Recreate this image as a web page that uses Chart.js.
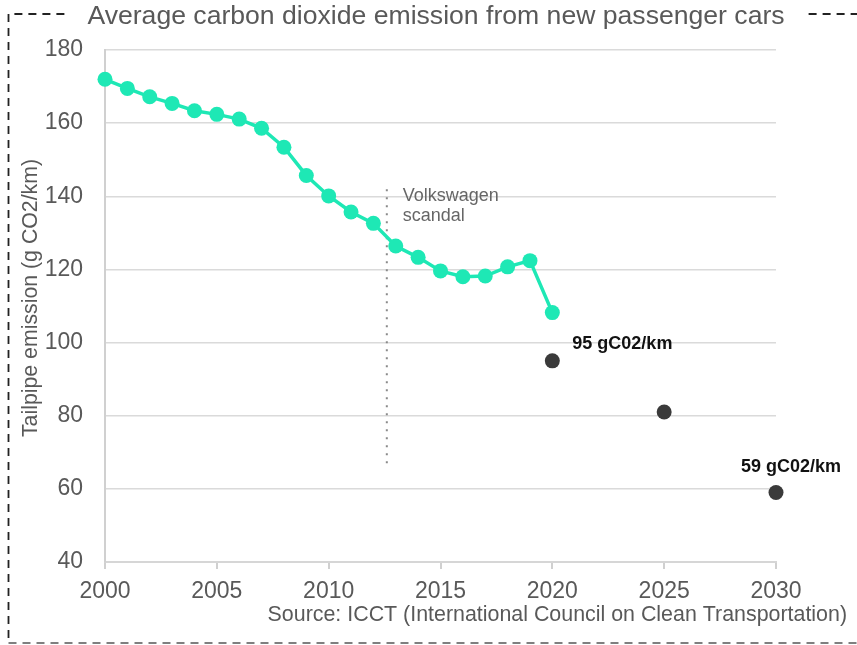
<!DOCTYPE html>
<html>
<head>
<meta charset="utf-8">
<title>Average carbon dioxide emission from new passenger cars</title>
<script src="https://cdn.jsdelivr.net/npm/chart.js@4/dist/chart.umd.min.js"></script>
<style>
  html, body { margin: 0; padding: 0; background: #ffffff; }
  #wrap { width: 857px; height: 645px; }
</style>
</head>
<body>
<div id="wrap"><canvas id="chart" width="857" height="645"></canvas></div>
<script>
// Fleet average tailpipe CO2 of newly registered cars (g CO2/km)
const years = [2000, 2001, 2002, 2003, 2004, 2005, 2006, 2007, 2008, 2009, 2010,
               2011, 2012, 2013, 2014, 2015, 2016, 2017, 2018, 2019, 2020];
const emissions = [172.0, 169.5, 167.2, 165.4, 163.4, 162.4, 161.1, 158.6, 153.4, 145.7, 140.1,
                   135.7, 132.6, 126.4, 123.3, 119.6, 118.0, 118.2, 120.7, 122.4, 108.2];

// Regulatory targets
const targetYears = [2020, 2025, 2030];
const targetValues = [95, 81, 59];
const targetLabels = ['95 gC02/km', null, '59 gC02/km'];

// Volkswagen emissions scandal marker
const scandalYear = 2012.6;
const scandalSpan = [67, 143];
const scandalText = ['Volkswagen', 'scandal'];

const xTicks = [2000, 2005, 2010, 2015, 2020, 2025, 2030];
const yTicks = [40, 60, 80, 100, 120, 140, 160, 180];

const chartTitle = 'Average carbon dioxide emission from new passenger cars';
const yTitle = 'Tailpipe emission (g CO2/km)';
const sourceText = 'Source: ICCT (International Council on Clean Transportation)';

const FONT = '"Liberation Sans", Arial, Helvetica, sans-serif';
const GREY_TEXT = '#595959';
const TEAL = '#1ee8b5';
const DARK = '#3a3a3a';

const decorations = {
  id: 'decorations',
  afterDraw(chart) {
    const ctx = chart.ctx;
    const xs = chart.scales.x, ys = chart.scales.y;
    ctx.save();

    // Title
    ctx.font = '26.6px ' + FONT;
    ctx.fillStyle = GREY_TEXT;
    ctx.textAlign = 'center';
    ctx.textBaseline = 'alphabetic';
    const titleX = 436;
    ctx.fillText(chartTitle, titleX, 24);
    const tw = ctx.measureText(chartTitle).width;

    // Dashed frame, open on the right and broken by the title
    ctx.strokeStyle = '#222222';
    ctx.lineWidth = 1.8;
    ctx.setLineDash([8, 6]);
    const left = 8.5, top = 14, bottom = 643;
    ctx.beginPath();
    ctx.moveTo(titleX - tw / 2 - 23, top);
    ctx.lineTo(left, top);
    ctx.lineTo(left, bottom);
    ctx.stroke();
    ctx.strokeStyle = '#555555';
    ctx.lineWidth = 1.5;
    ctx.beginPath();
    ctx.moveTo(left, bottom);
    ctx.lineTo(857, bottom);
    ctx.stroke();
    ctx.strokeStyle = '#222222';
    ctx.lineWidth = 1.8;
    ctx.beginPath();
    ctx.moveTo(titleX + tw / 2 + 24, top);
    ctx.lineTo(857, top);
    ctx.stroke();
    ctx.setLineDash([]);

    // Y axis title
    ctx.save();
    ctx.translate(31, 298);
    ctx.rotate(-Math.PI / 2);
    ctx.font = '21.3px ' + FONT;
    ctx.fillStyle = GREY_TEXT;
    ctx.textAlign = 'center';
    ctx.textBaseline = 'middle';
    ctx.fillText(yTitle, 0, 0);
    ctx.restore();

    // Source note
    ctx.font = '21.4px ' + FONT;
    ctx.fillStyle = GREY_TEXT;
    ctx.textAlign = 'right';
    ctx.textBaseline = 'alphabetic';
    ctx.fillText(sourceText, 847, 621);

    // Scandal annotation
    ctx.font = '18px ' + FONT;
    ctx.fillStyle = '#666666';
    ctx.textAlign = 'left';
    const sx = xs.getPixelForValue(scandalYear) + 16;
    const sy = ys.getPixelForValue(scandalSpan[1]) + 15.5;
    scandalText.forEach((t, i) => ctx.fillText(t, sx, sy + i * 20.5));

    // Target value labels
    ctx.font = 'bold 18px ' + FONT;
    ctx.fillStyle = '#111111';
    targetLabels.forEach((t, i) => {
      if (!t) return;
      const px = xs.getPixelForValue(targetYears[i]);
      const py = ys.getPixelForValue(targetValues[i]);
      if (i === 0) ctx.fillText(t, px + 20, py - 12);
      else ctx.fillText(t, px - 35, py - 21);
    });

    ctx.restore();
  }
};

new Chart(document.getElementById('chart'), {
  type: 'line',
  data: {
    datasets: [
      {
        label: 'Scandal',
        data: scandalSpan.map(v => ({ x: scandalYear, y: v })),
        borderColor: '#8a8a8a',
        borderWidth: 2,
        borderDash: [2, 6],
        pointRadius: 0,
        clip: false,
        order: 3
      },
      {
        label: 'Targets',
        data: targetYears.map((x, i) => ({ x, y: targetValues[i] })),
        showLine: false,
        pointRadius: 7.5,
        pointBackgroundColor: DARK,
        pointBorderColor: DARK,
        pointBorderWidth: 0,
        clip: false,
        order: 2
      },
      {
        label: 'Average emission',
        data: years.map((x, i) => ({ x, y: emissions[i] })),
        borderColor: TEAL,
        borderWidth: 3.5,
        pointRadius: 7.5,
        pointBackgroundColor: TEAL,
        pointBorderColor: TEAL,
        pointBorderWidth: 0,
        tension: 0,
        clip: false,
        order: 1
      }
    ]
  },
  options: {
    responsive: false,
    devicePixelRatio: 1,
    animation: false,
    events: [],
    layout: { padding: { left: 0, top: 50, right: 81, bottom: 0 } },
    plugins: {
      legend: { display: false },
      title: { display: false },
      tooltip: { enabled: false }
    },
    scales: {
      x: {
        type: 'linear',
        min: 2000,
        max: 2030,
        afterFit: s => { s.height = 83; },
        afterBuildTicks: s => { s.ticks = xTicks.map(v => ({ value: v })); },
        ticks: {
          callback: v => String(v),
          font: { family: FONT, size: 23 },
          color: GREY_TEXT,
          padding: 9,
          maxRotation: 0
        },
        grid: {
          drawOnChartArea: false,
          drawTicks: true,
          tickLength: 7,
          color: '#d0d0d0',
          lineWidth: 2
        },
        border: { display: true, color: '#d6d6d6', width: 2 }
      },
      y: {
        min: 40,
        max: 180,
        afterFit: s => { s.width = 105; },
        afterBuildTicks: s => { s.ticks = yTicks.map(v => ({ value: v })); },
        ticks: {
          font: { family: FONT, size: 23 },
          color: GREY_TEXT,
          padding: 22
        },
        grid: {
          drawTicks: false,
          color: '#dadada',
          lineWidth: 1.5
        },
        border: { display: true, color: '#d0d0d0', width: 2 }
      }
    }
  },
  plugins: [decorations]
});
</script>
</body>
</html>
